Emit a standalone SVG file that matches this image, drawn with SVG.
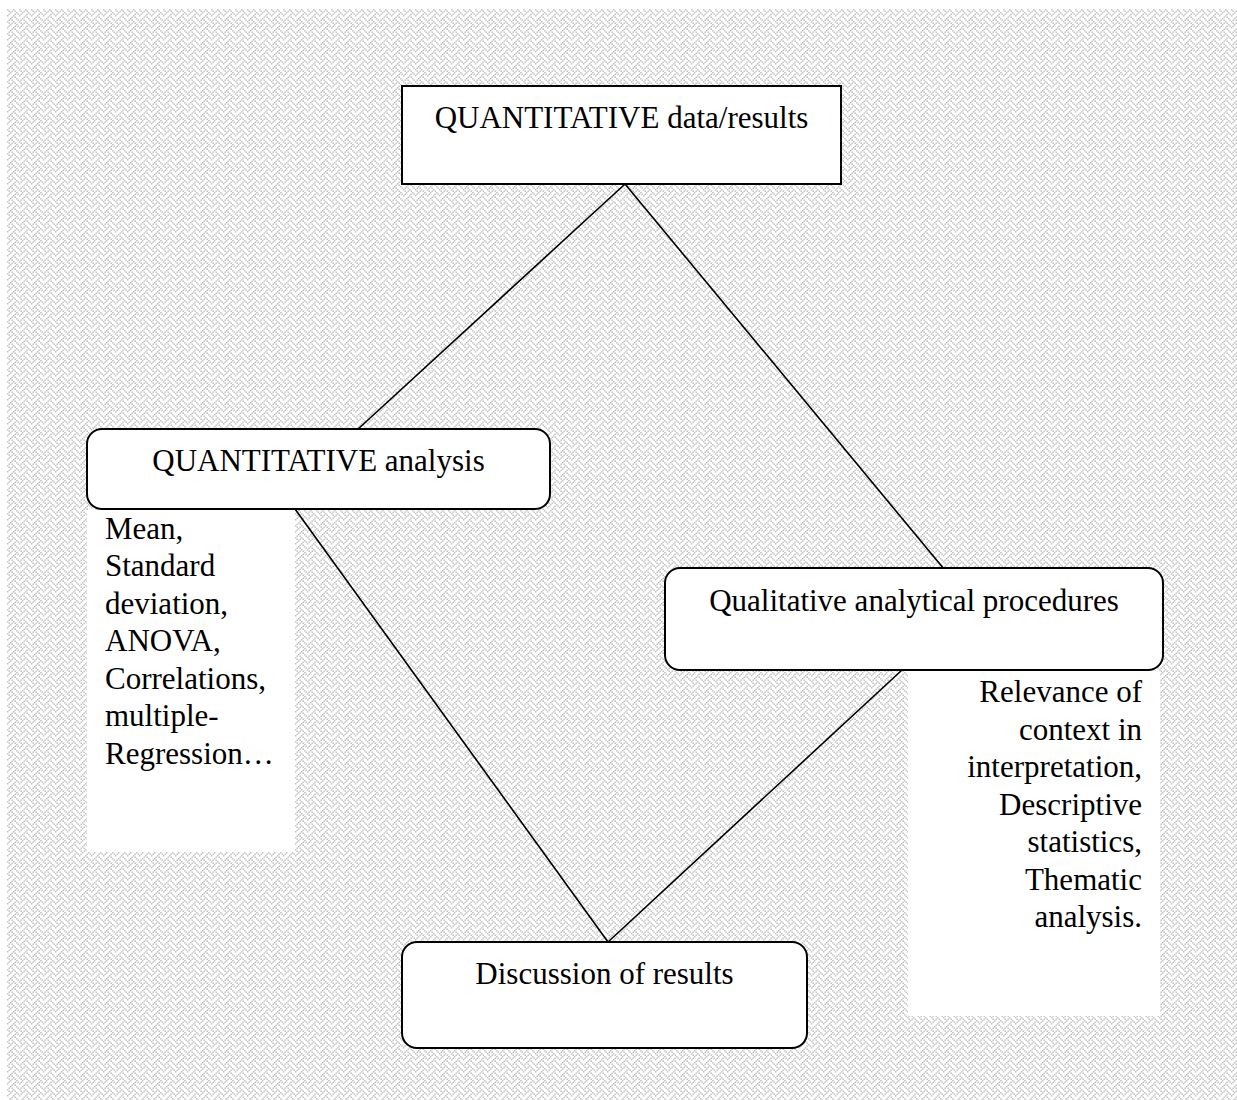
<svg xmlns="http://www.w3.org/2000/svg" width="1237" height="1100" viewBox="0 0 1237 1100">
  <defs>
    <!-- 8x8 weave hatch, drawn at 1.5x -->
    <pattern id="weave" width="8" height="8" patternUnits="userSpaceOnUse" patternTransform="translate(7 9) scale(1.5)">
      <rect width="8" height="8" fill="#ffffff"/>
      <g fill="#c4c4c4">
        <rect x="0" y="0" width="1" height="1"/><rect x="4" y="0" width="1" height="1"/>
        <rect x="1" y="1" width="1" height="1"/><rect x="3" y="1" width="1" height="1"/><rect x="5" y="1" width="1" height="1"/>
        <rect x="2" y="2" width="1" height="1"/><rect x="6" y="2" width="1" height="1"/>
        <rect x="1" y="3" width="1" height="1"/><rect x="5" y="3" width="1" height="1"/><rect x="7" y="3" width="1" height="1"/>
        <rect x="0" y="4" width="1" height="1"/><rect x="4" y="4" width="1" height="1"/>
        <rect x="3" y="5" width="1" height="1"/><rect x="5" y="5" width="1" height="1"/>
        <rect x="2" y="6" width="1" height="1"/><rect x="6" y="6" width="1" height="1"/>
        <rect x="1" y="7" width="1" height="1"/><rect x="3" y="7" width="1" height="1"/><rect x="7" y="7" width="1" height="1"/>
      </g>
    </pattern>
  </defs>
  <style>
    .box { fill: #ffffff; stroke: #000000; stroke-width: 2; }
    .note { fill: #ffffff; stroke: none; }
    .link { stroke: #000000; stroke-width: 1.6; fill: none; }
    .label { font-family: "Liberation Serif", "Times New Roman", serif; font-size: 31px; fill: #000000; }
    .mid { text-anchor: middle; }
    .end { text-anchor: end; }
  </style>

  <rect width="1237" height="1100" fill="#ffffff"/>
  <rect x="7" y="9" width="1230" height="1091" fill="url(#weave)"/>

  <!-- connectors -->
  <g id="connectors">
    <line class="link" x1="625" y1="184" x2="357" y2="430"/>
    <line class="link" x1="625" y1="184" x2="944" y2="569"/>
    <line class="link" x1="295" y1="509" x2="608" y2="942"/>
    <line class="link" x1="902" y1="670" x2="608" y2="942"/>
  </g>

  <g id="quant-data">
    <rect class="box" x="402" y="86" width="439" height="98"/>
    <text class="label mid" x="621.5" y="128">QUANTITATIVE data/results</text>
  </g>

  <g id="quant-analysis">
    <rect class="box" x="87" y="429" width="463" height="80" rx="15" ry="15"/>
    <text class="label mid" x="318.5" y="471">QUANTITATIVE analysis</text>
  </g>

  <g id="quant-methods">
    <rect class="note" x="87" y="510" width="208" height="342"/>
    <text class="label" x="105" y="538.5">Mean,</text>
    <text class="label" x="105" y="576">Standard</text>
    <text class="label" x="105" y="613.5">deviation,</text>
    <text class="label" x="105" y="651">ANOVA,</text>
    <text class="label" x="105" y="688.5">Correlations,</text>
    <text class="label" x="105" y="726">multiple-</text>
    <text class="label" x="105" y="763.5">Regression…</text>
  </g>

  <g id="qual-procedures">
    <rect class="box" x="665" y="568" width="498" height="102" rx="15" ry="15"/>
    <text class="label mid" x="914" y="611">Qualitative analytical procedures</text>
  </g>

  <g id="qual-methods">
    <rect class="note" x="908" y="671" width="252" height="345"/>
    <text class="label end" x="1142" y="702">Relevance of</text>
    <text class="label end" x="1142" y="739.5">context in</text>
    <text class="label end" x="1142" y="777">interpretation,</text>
    <text class="label end" x="1142" y="814.5">Descriptive</text>
    <text class="label end" x="1142" y="852">statistics,</text>
    <text class="label end" x="1142" y="889.5">Thematic</text>
    <text class="label end" x="1142" y="927">analysis.</text>
  </g>

  <g id="discussion">
    <rect class="box" x="402" y="942" width="405" height="106" rx="15" ry="15"/>
    <text class="label mid" x="604.5" y="984">Discussion of results</text>
  </g>
</svg>
